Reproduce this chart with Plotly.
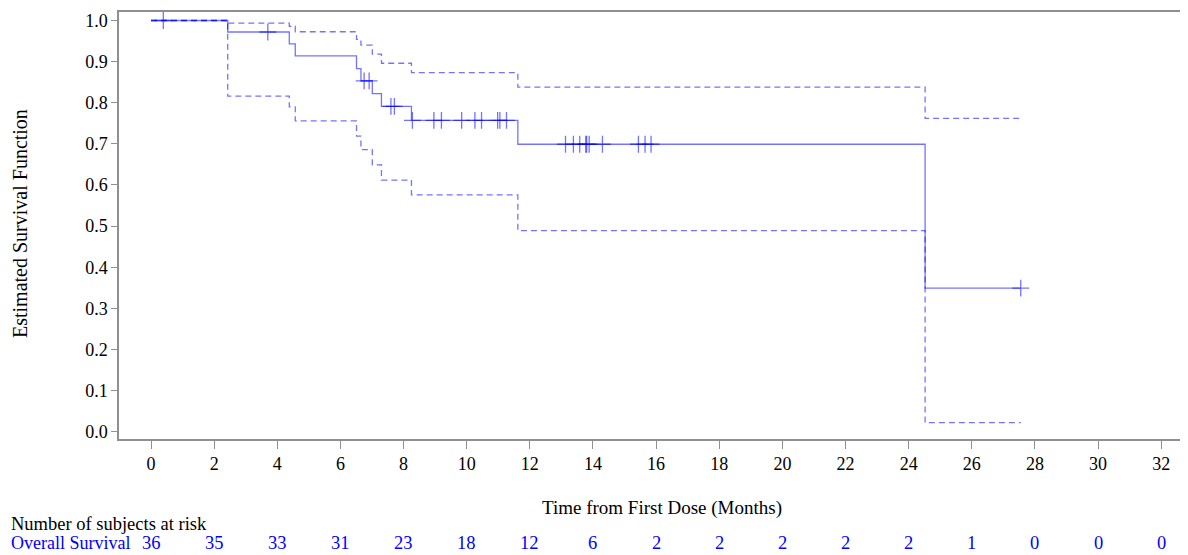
import plotly.graph_objects as go

# ---- data ----
step_time = [0.0, 2.43, 4.38, 4.57, 6.51, 6.65, 7.01, 7.30, 8.25, 11.62, 24.52, 27.55]
surv_prob = [1.0, 0.972, 0.943, 0.914, 0.883, 0.853, 0.822, 0.791, 0.757, 0.699, 0.349, 0.349]
upper_ci = [1.0, 0.9935, 0.986, 0.9726, 0.954, 0.940, 0.918, 0.896, 0.873, 0.838, 0.762, 0.762]
lower_ci = [1.0, 0.816, 0.790, 0.756, 0.719, 0.686, 0.649, 0.612, 0.576, 0.489, 0.022, 0.022]

censor_time = [0.39, 3.70, 6.75, 6.91, 7.60, 7.71, 8.28, 8.96, 9.20, 9.84, 10.26, 10.47,
               10.98, 11.05, 11.26, 13.13, 13.38, 13.58, 13.77, 13.80, 13.88, 14.30,
               15.44, 15.65, 15.84, 27.55]
censor_prob = [1.0, 0.972, 0.853, 0.853, 0.791, 0.791, 0.757, 0.757, 0.757, 0.757, 0.757, 0.757,
               0.757, 0.757, 0.757, 0.699, 0.699, 0.699, 0.699, 0.699, 0.699, 0.699,
               0.699, 0.699, 0.699, 0.349]

risk_times = [0, 2, 4, 6, 8, 10, 12, 14, 16, 18, 20, 22, 24, 26, 28, 30, 32]
risk_counts = [36, 35, 33, 31, 23, 18, 12, 6, 2, 2, 2, 2, 2, 1, 0, 0, 0]

x_ticks = list(range(0, 33, 2))
y_ticks = [round(i / 10, 1) for i in range(11)]

# ---- styling ----
BLUE = "rgba(0,0,255,0.55)"
SERIF = "Liberation Serif"
AXIS = "#8f8f8f"

OFF = 8  # default page body margin
W, H = 1188 - OFF, 555 - OFF
# plot area in page pixels: x 119..1188, y 12..439
L, T = 119 - OFF, 12 - OFF
R = 0
B = H - (439 - OFF)
PW, PH = W - L - R, H - T - B

X0_PX, X_SCALE = 151, 31.57   # page px of t=0, px per month
Y1_PX, Y0_PX = 20.5, 431.7    # page px of S=1.0 and S=0.0


def px_to_paper_x(px):
    return (px - OFF - L) / PW


def px_to_paper_y(py):
    return (H - B - (py - OFF)) / PH


y_per_px = 1.0 / (Y0_PX - Y1_PX)
y_range = [-(439 - Y0_PX) * y_per_px, 1.0 + (Y1_PX - 12) * y_per_px]
x_range = [(119 - X0_PX) / X_SCALE, (1188 - X0_PX) / X_SCALE]

fig = go.Figure()

for ci in (upper_ci, lower_ci):
    fig.add_trace(go.Scatter(x=step_time, y=ci, mode="lines", line_shape="hv",
                             line=dict(color=BLUE, width=1.3, dash="6px,4px"),
                             hoverinfo="skip", showlegend=False))
fig.add_trace(go.Scatter(x=step_time, y=surv_prob, mode="lines", line_shape="hv",
                         line=dict(color=BLUE, width=1.3), showlegend=False))
fig.add_trace(go.Scatter(x=censor_time, y=censor_prob, mode="markers",
                         marker=dict(symbol="cross-thin", size=12,
                                     line=dict(color=BLUE, width=1.3)),
                         showlegend=False))

annotations = []
annotations.append(dict(text="Time from First Dose (Months)", xref="paper", yref="paper",
                        x=px_to_paper_x(662), y=px_to_paper_y(508),
                        xanchor="center", yanchor="middle", showarrow=False,
                        font=dict(family=SERIF, size=19, color="black")))
annotations.append(dict(text="Estimated Survival Function", xref="paper", yref="paper",
                        x=px_to_paper_x(20), y=px_to_paper_y(224), textangle=-90,
                        xanchor="center", yanchor="middle", showarrow=False,
                        font=dict(family=SERIF, size=20, color="black")))
annotations.append(dict(text="Number of subjects at risk", xref="paper", yref="paper",
                        x=px_to_paper_x(9), y=px_to_paper_y(524),
                        xanchor="left", yanchor="middle", showarrow=False,
                        font=dict(family=SERIF, size=18.5, color="black")))
annotations.append(dict(text="Overall Survival", xref="paper", yref="paper",
                        x=px_to_paper_x(9), y=px_to_paper_y(543),
                        xanchor="left", yanchor="middle", showarrow=False,
                        font=dict(family=SERIF, size=18, color="blue")))
for t, n in zip(risk_times, risk_counts):
    annotations.append(dict(text=str(n), xref="x", yref="paper",
                            x=t, y=px_to_paper_y(543),
                            xanchor="center", yanchor="middle", showarrow=False,
                            font=dict(family=SERIF, size=18.5, color="blue")))

fig.update_layout(
    width=W, height=H,
    margin=dict(l=L, r=R, t=T, b=B, pad=0),
    plot_bgcolor="white", paper_bgcolor="white",
    font=dict(family=SERIF, size=17, color="black"),
    annotations=annotations,
    xaxis=dict(range=x_range,
               tickmode="array", tickvals=x_ticks, ticktext=[str(v) for v in x_ticks],
               ticks="outside", ticklen=8, tickcolor=AXIS, tickwidth=1.2,
               showline=True, linecolor=AXIS, linewidth=1.5, mirror=True,
               showgrid=False, zeroline=False,
               tickfont=dict(family=SERIF, size=18, color="black")),
    yaxis=dict(range=y_range,
               tickmode="array", tickvals=y_ticks, ticktext=[f"{v:.1f}" for v in y_ticks],
               ticks="outside", ticklen=6, tickcolor=AXIS, tickwidth=1.2,
               showline=True, linecolor=AXIS, linewidth=1.5, mirror=False,
               showgrid=False, zeroline=False,
               tickfont=dict(family=SERIF, size=18, color="black")),
)

fig.write_html("out.html")
